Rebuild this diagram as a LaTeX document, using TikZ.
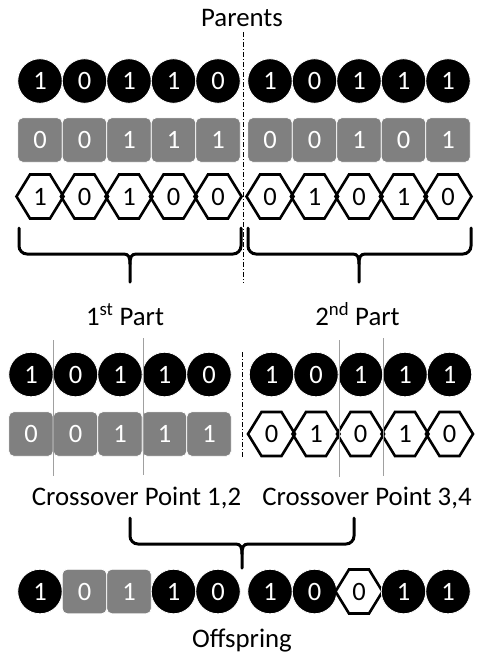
\documentclass[tikz,border=0pt]{standalone}
\usepackage{fontspec}
\setmainfont{Carlito}
\usetikzlibrary{calc}
\definecolor{bitgray}{HTML}{808080}
\definecolor{cutgray}{HTML}{A0A0A0}
\newcommand\digitfont{\fontsize{26.5}{31}\selectfont}
\newcommand\lblfont{\fontsize{26.8}{32}\selectfont}
\begin{document}
\begin{tikzpicture}[x=1pt,y=-1pt,
  bitc/.style={circle, fill=black, draw=white, line width=0.8pt, minimum size=44.5pt, inner sep=0pt, text=white, font=\digitfont},
  bitr/.style={rectangle, rounded corners=5pt, fill=bitgray, draw=white, line width=0.8pt, minimum width=44.5pt, minimum height=44.5pt, inner sep=0pt, text=white, font=\digitfont},
  bith/.style={inner sep=0pt, text=black, font=\digitfont},
  hexline/.style={draw=black, line width=2.6pt, line join=miter},
  lbl/.style={anchor=base, inner sep=0pt, font=\lblfont},
  bracex/.style={draw=black, line width=3pt, line cap=round},
  cutline/.style={draw=cutgray, line width=1pt},
  splitline/.style={draw=black, line width=1pt, dash pattern=on 5pt off 2pt on 1pt off 2pt}
]
\useasboundingbox (0,0) rectangle (477,659);
\newcommand\hexpath[1]{\draw[hexline] (#1.center) ++(-23.5,0) -- ++(13.5,-22) -- ++(20,0) -- ++(13.5,22) -- ++(-13.5,22) -- ++(-20,0) -- cycle;}

% ---------- Parents ----------
\node[lbl] (parents) at (242,26) {Parents};
\draw[splitline] (243,32) -- (243,283);

\foreach \d [count=\i from 0] in {1,0,1,1,0} {\node[bitc] (pA\i) at (40+44.5*\i,81) {\d};}
\foreach \d [count=\i from 0] in {1,0,1,1,1} {\node[bitc] (pB\i) at (270+44.5*\i,81) {\d};}
\foreach \d [count=\i from 0] in {0,0,1,1,1} {\node[bitr] (qA\i) at (40+44.5*\i,140) {\d};}
\foreach \d [count=\i from 0] in {0,0,1,0,1} {\node[bitr] (qB\i) at (270+44.5*\i,140) {\d};}
\foreach \d [count=\i from 0] in {1,0,1,0,0} {\node[bith] (hA\i) at (40+44.5*\i,196.5) {\d}; \hexpath{hA\i}}
\foreach \d [count=\i from 0] in {0,1,0,1,0} {\node[bith] (hB\i) at (270+44.5*\i,196.5) {\d}; \hexpath{hB\i}}

% ---------- braces ----------
\draw[bracex] (19,228) [rounded corners=8pt]-- (19,254) [sharp corners]-- (124,254) .. controls (129,254) and (130,258) .. (130,264) -- (130,282);
\draw[bracex] (241,228) [rounded corners=8pt]-- (241,254) [sharp corners]-- (136,254) .. controls (131,254) and (130,258) .. (130,264);
\draw[bracex] (248,228) [rounded corners=8pt]-- (248,254) [sharp corners]-- (353,254) .. controls (358,254) and (359,258) .. (359,264) -- (359,282);
\draw[bracex] (471,228) [rounded corners=8pt]-- (471,254) [sharp corners]-- (365,254) .. controls (360,254) and (359,258) .. (359,264);

\node[lbl] (part1) at (125,325) {1\textsuperscript{st} Part};
\node[lbl] (part2) at (357.5,325) {2\textsuperscript{nd} Part};

% ---------- parts ----------
\draw[splitline] (242,352) -- (242,457);
\foreach \d [count=\i from 0] in {1,0,1,1,0} {\node[bitc] (sA\i) at (31+44.5*\i,374.5) {\d};}
\foreach \d [count=\i from 0] in {0,0,1,1,1} {\node[bitr] (tA\i) at (31+44.5*\i,434) {\d};}
\foreach \d [count=\i from 0] in {1,0,1,1,1} {\node[bitc] (sB\i) at (271.5+44.5*\i,374.5) {\d};}
\foreach \d [count=\i from 0] in {0,1,0,1,0} {\node[bith] (tB\i) at (271.5+44.5*\i,434) {\d}; \hexpath{tB\i}}

\draw[cutline] (53.5,340) -- (53.5,476);
\draw[cutline] (143,338) -- (143,475);
\draw[cutline] (339,340) -- (339,477);
\draw[cutline] (383.5,338) -- (383.5,476);

\node[lbl] (cp12) at (136.5,505) {Crossover Point 1,2};
\node[lbl] (cp34) at (367,505) {Crossover Point 3,4};

\draw[bracex] (130,518) [rounded corners=8pt]-- (130,544) [sharp corners]-- (236,544) .. controls (241,544) and (242,548) .. (242,554) -- (242,568);
\draw[bracex] (354,518) [rounded corners=8pt]-- (354,544) [sharp corners]-- (248,544) .. controls (243,544) and (242,548) .. (242,554);

% ---------- offspring ----------
\node[bitc] (o0) at (40,591.5) {1};
\node[bitr] (o1) at (84.5,591.5) {0};
\node[bitr] (o2) at (129,591.5) {1};
\node[bitc] (o3) at (173.5,591.5) {1};
\node[bitc] (o4) at (218,591.5) {0};
\node[bitc] (o5) at (270,591.5) {1};
\node[bitc] (o6) at (314.5,591.5) {0};
\node[bith] (o7) at (359,591.5) {0}; \hexpath{o7}
\node[bitc] (o8) at (403.5,591.5) {1};
\node[bitc] (o9) at (448,591.5) {1};

\node[lbl] (offspring) at (242,647) {Offspring};
\end{tikzpicture}
\end{document}
